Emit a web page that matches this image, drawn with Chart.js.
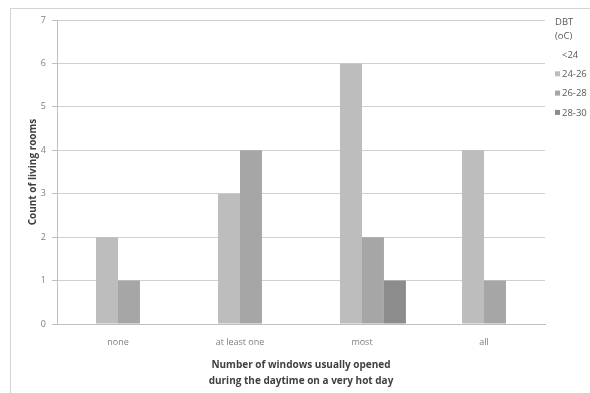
<!DOCTYPE html>
<html><head><meta charset="utf-8">
<script src="https://cdn.jsdelivr.net/npm/chart.js@4.4.0/dist/chart.umd.min.js"></script>
<style>html,body{margin:0;padding:0;background:#fff}#wrap{width:590px;height:393px}</style>
</head><body><div id="wrap"><canvas id="c" width="590" height="393"></canvas></div>
<script>
const categories = ["none", "at least one", "most", "all"];
const seriesLabels = ["<24", "24-26", "26-28", "28-30"];
const lt24 = [0, 0, 0, 0];
const s24_26 = [2, 3, 6, 4];
const s26_28 = [1, 4, 2, 1];
const s28_30 = [0, 0, 1, 0];
const yTicks = [0, 1, 2, 3, 4, 5, 6, 7];
const colors = ["#ffffff", "#bdbdbd", "#a6a6a6", "#8c8c8c"];

const font = "'Open Sans', 'Liberation Sans', sans-serif";

const framePlugin = {
  id: 'frame',
  beforeDraw(chart) {
    const ctx = chart.ctx;
    ctx.save();
    ctx.fillStyle = '#fff';
    ctx.fillRect(0, 0, chart.width, chart.height);
    ctx.strokeStyle = '#d4d4d4';
    ctx.lineWidth = 1;
    ctx.strokeRect(10.5, 8.5, chart.width, chart.height);
    ctx.restore();
  }
};

const legendPlugin = {
  id: 'customLegend',
  afterDraw(chart) {
    const ctx = chart.ctx;
    const x = chart.chartArea.right + 10;
    ctx.save();
    ctx.font = "9.5px " + font;
    ctx.fillStyle = '#595959';
    ctx.textBaseline = 'middle';
    ctx.textAlign = 'left';
    ctx.fillText('DBT', x, 22);
    ctx.fillText('(oC)', x, 36);
    chart.data.datasets.forEach((ds, i) => {
      const y = 55 + i * 19.3;
      if (i > 0) {
        ctx.fillStyle = ds.backgroundColor;
        ctx.fillRect(x, y - 3, 5, 5);
      }
      ctx.fillStyle = '#595959';
      ctx.fillText(ds.label, x + 7, y);
    });
    ctx.restore();
  }
};

new Chart(document.getElementById('c'), {
  type: 'bar',
  data: {
    labels: categories,
    datasets: [lt24, s24_26, s26_28, s28_30].map((d, i) => ({
      label: seriesLabels[i],
      data: d,
      backgroundColor: colors[i],
      borderWidth: 0,
      categoryPercentage: 0.72,
      barPercentage: 1.0
    }))
  },
  options: {
    responsive: false,
    animation: false,
    devicePixelRatio: 1,
    layout: { padding: { left: 23, right: 45, top: 20, bottom: 0 } },
    plugins: { legend: { display: false }, tooltip: { enabled: false } },
    scales: {
      x: {
        grid: { display: false, drawTicks: false },
        border: { display: true, color: '#bfbfbf' },
        ticks: { color: '#7f7f7f', font: { family: font, size: 9 }, padding: 13, maxRotation: 0 },
        title: {
          display: true,
          text: ['Number of windows usually opened', 'during the daytime on a very hot day'],
          color: '#404040',
          font: { family: font, size: 10, weight: 'bold', lineHeight: 1.6 },
          padding: { top: 5 }
        },
        afterFit(s) { s.height = 69; }
      },
      y: {
        min: 0, max: 7,
        afterBuildTicks(s) { s.ticks = yTicks.map(v => ({ value: v })); },
        grid: { color: '#d0d0d0', tickLength: 5, drawTicks: true, tickColor: '#bfbfbf' },
        border: { display: true, color: '#bfbfbf' },
        ticks: { color: '#7f7f7f', font: { family: font, size: 9 }, padding: 6 },
        title: {
          display: true,
          text: 'Count of living rooms',
          color: '#404040',
          font: { family: font, size: 10, weight: 'bold' },
          padding: { bottom: 2 }
        },
        afterFit(s) { s.width = 34; }
      }
    }
  },
  plugins: [framePlugin, legendPlugin]
});
</script></body></html>
